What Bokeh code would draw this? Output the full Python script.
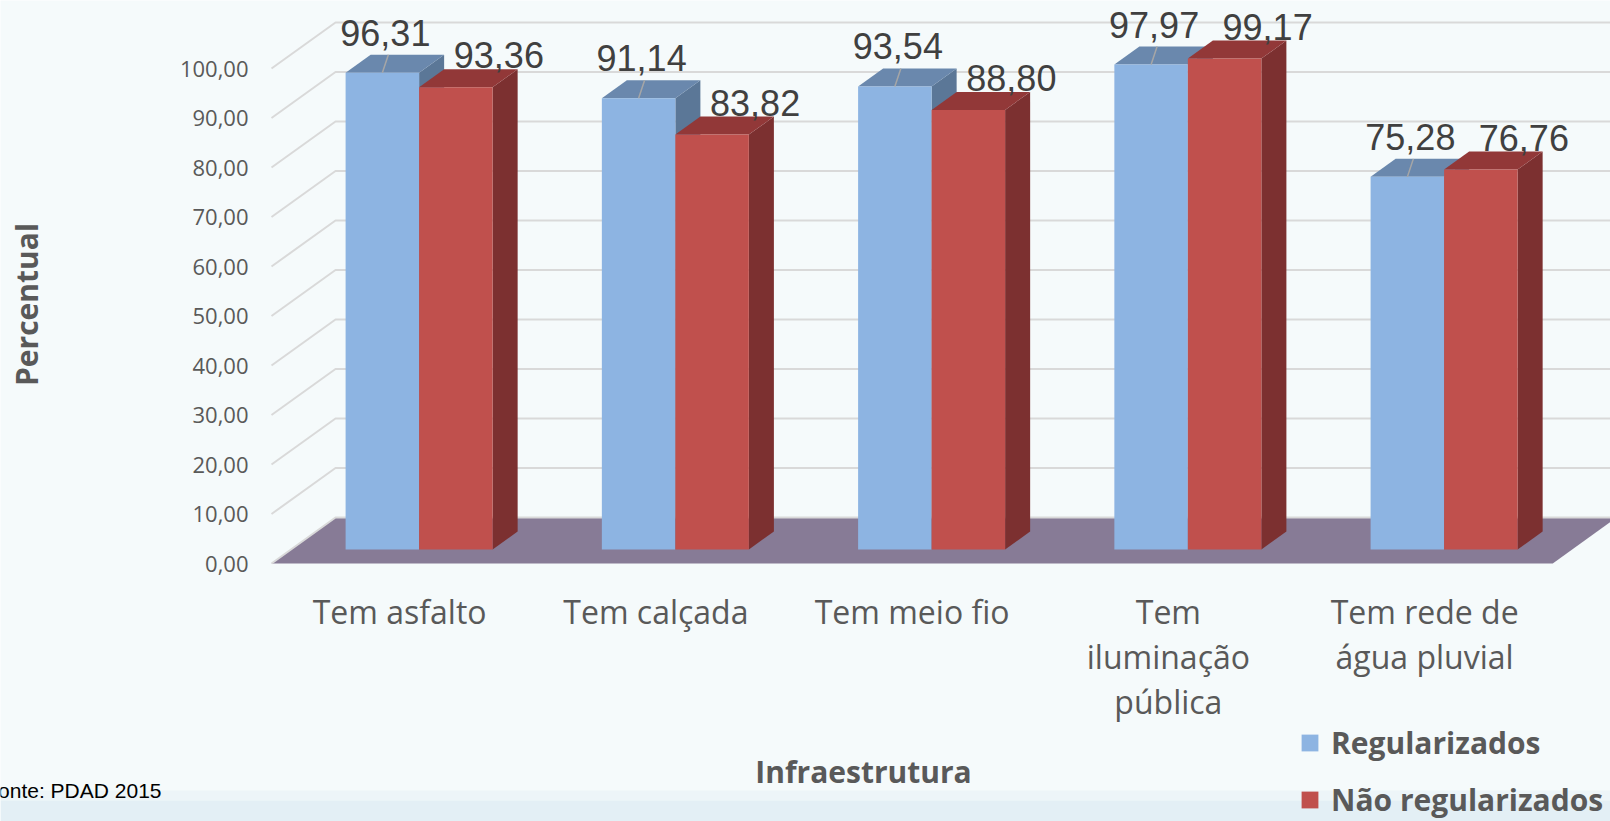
import math
from bokeh.plotting import figure
from bokeh.models import Range1d, Legend, LegendItem
from bokeh.core.properties import value
from bokeh.embed import file_html
from bokeh.resources import INLINE

# ---------------- data ----------------
categories = ["Tem asfalto", "Tem calçada", "Tem meio fio",
              "Tem\niluminação\npública", "Tem rede de\nágua pluvial"]
series_names = ["Regularizados", "Não regularizados"]
regularizados = [96.31, 91.14, 93.54, 97.97, 75.28]
nao_regularizados = [93.36, 83.82, 88.80, 99.17, 76.76]
y_ticks = [0, 10, 20, 30, 40, 50, 60, 70, 80, 90, 100]
y_tick_labels = ["0,00", "10,00", "20,00", "30,00", "40,00", "50,00",
                 "60,00", "70,00", "80,00", "90,00", "100,00"]
x_title = "Infraestrutura"
y_title = "Percentual"
source_note = "Fonte: PDAD 2015"

# ---------------- layout / style ----------------
W, H = 1610, 821
PX_X = 256.25          # px per category
PX_Y = 4.95            # px per percent unit
ORIG_X, ORIG_Y = 271, 563   # front-left floor corner (px from left / from top)
DX = 64 / PX_X         # oblique depth shift (x, in category units)
DY = 46 / PX_Y         # oblique depth shift (y, in value units)
F0, F1 = 14 / 46, 32 / 46   # bar front / back depth fraction
BAR_W = 73.5 / PX_X

BG = "#F5FAFB"
GRID = "#D9D9D9"
FLOOR = "#877B96"
TXT = "#595959"
FRONT = ["#8DB4E2", "#C0504D"]
TOP = ["#6A88AD", "#923838"]
SIDE = ["#5B7797", "#7C3030"]
LABEL_FONT = value("Open Sans")

ncat = len(categories)
p = figure(width=W, height=H,
           x_range=Range1d(-ORIG_X / PX_X, (W - ORIG_X) / PX_X),
           y_range=Range1d(-(H - ORIG_Y) / PX_Y, ORIG_Y / PX_Y),
           min_border=0, toolbar_location=None, output_backend="svg",
           x_axis_location=None, y_axis_location=None)
p.grid.visible = False
p.outline_line_color = None
p.background_fill_color = BG
p.border_fill_color = BG

x0r, x1r = p.x_range.start, p.x_range.end
y0r = p.y_range.start

# subtle bottom band
p.quad(left=[x0r], right=[x1r], bottom=[-(790 - ORIG_Y) / PX_Y], top=[-(800 - ORIG_Y) / PX_Y],
       fill_color="#EDF5F8", line_color=None)
p.quad(left=[x0r], right=[x1r], bottom=[y0r], top=[-(800 - ORIG_Y) / PX_Y],
       fill_color="#E3EFF5", line_color=None)

# floor
p.patch([0, ncat, ncat + DX, DX], [0, 0, DY, DY], fill_color=FLOOR, line_color=None)

# gridlines: left wall diagonal + back wall horizontal
gx = [[0, DX, ncat + DX + 0.2] for _ in y_ticks]
gy = [[t, t + DY, t + DY] for t in y_ticks]
p.multi_line(gx, gy, line_color=GRID, line_width=2)

# bars
series = [regularizados, nao_regularizados]
front_renderers = []
for s, vals in enumerate(series):
    lefts = [i + 0.5 - BAR_W + s * BAR_W for i in range(ncat)]
    rights = [l + BAR_W for l in lefts]
    side_xs = [[r + F0 * DX, r + F1 * DX, r + F1 * DX, r + F0 * DX] for r in rights]
    side_ys = [[F0 * DY, F1 * DY, v + F1 * DY, v + F0 * DY] for v in vals]
    p.patches(side_xs, side_ys, fill_color=SIDE[s], line_color=None)
    top_xs = [[l + F0 * DX, r + F0 * DX, r + F1 * DX, l + F1 * DX] for l, r in zip(lefts, rights)]
    top_ys = [[v + F0 * DY, v + F0 * DY, v + F1 * DY, v + F1 * DY] for v in vals]
    p.patches(top_xs, top_ys, fill_color=TOP[s], line_color=None)
    fr = p.quad(left=[l + F0 * DX for l in lefts], right=[r + F0 * DX for r in rights],
                bottom=[F0 * DY] * ncat, top=[v + F0 * DY for v in vals],
                fill_color=FRONT[s], line_color=None)
    front_renderers.append(fr)

# leader lines (blue labels)
fc_blue = [i + 0.5 - BAR_W / 2 + F0 * DX for i in range(ncat)]
fc_red = [i + 0.5 + BAR_W / 2 + F0 * DX for i in range(ncat)]
p.segment(x0=[c + 6 / PX_X for c in fc_blue], y0=[v + F1 * DY for v in regularizados],
          x1=fc_blue, y1=[v + F0 * DY for v in regularizados],
          line_color="#A6A6A6", line_width=1.5)

# data labels
def fmt(v):
    return f"{v:.2f}".replace(".", ",")

p.text(x=fc_blue, y=[v + F0 * DY for v in regularizados], text=[fmt(v) for v in regularizados],
       x_offset=3, y_offset=-40, text_align="center", text_baseline="middle",
       text_font=value("Liberation Sans"), text_font_size="36px", text_color="#404040")
p.text(x=fc_red, y=[v + F0 * DY for v in nao_regularizados], text=[fmt(v) for v in nao_regularizados],
       x_offset=43, y_offset=-32, text_align="center", text_baseline="middle",
       text_font=value("Liberation Sans"), text_font_size="36px", text_color="#404040")

# y tick labels (front plane)
p.text(x=[-23 / PX_X] * len(y_ticks), y=y_ticks, text=y_tick_labels,
       text_align="right", text_baseline="middle", text_font=LABEL_FONT,
       text_font_size="22px", text_color=TXT)

# category labels
p.text(x=[i + 0.5 for i in range(ncat)], y=[-26 / PX_Y] * ncat, text=categories,
       text_align="center", text_baseline="top", text_font=LABEL_FONT,
       text_font_size="32px", text_color=TXT, text_line_height=1.05)

# axis titles
p.text(x=[-245 / PX_X], y=[259 / PX_Y], text=[y_title], angle=math.pi / 2,
       text_align="center", text_baseline="middle", text_font=LABEL_FONT,
       text_font_size="30px", text_font_style="bold", text_color=TXT)
p.text(x=[592 / PX_X], y=[-208 / PX_Y], text=[x_title],
       text_align="center", text_baseline="middle", text_font=LABEL_FONT,
       text_font_size="30px", text_font_style="bold", text_color=TXT)

# source note
p.text(x=[-110 / PX_X], y=[-227 / PX_Y], text=[source_note],
       text_align="right", text_baseline="middle", text_font=value("Liberation Sans"),
       text_font_size="21px", text_color="#000000")

legend = Legend(items=[LegendItem(label=series_names[k], renderers=[front_renderers[k]]) for k in range(2)],
                location=(1299, 1), orientation="vertical",
                glyph_width=21, glyph_height=21, label_standoff=11, spacing=16,
                padding=0, margin=0, border_line_color=None, background_fill_alpha=0,
                label_text_font="Open Sans", label_text_font_size="30px",
                label_text_font_style="bold", label_text_color=TXT)
p.add_layout(legend)

open("out.html", "w").write(file_html(p, INLINE))
